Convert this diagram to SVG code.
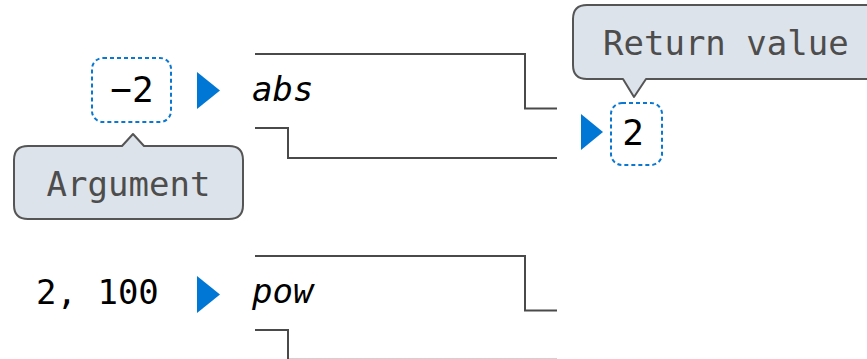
<svg xmlns="http://www.w3.org/2000/svg" width="867" height="359" viewBox="0 0 867 359">
<style>
  text { font-family: "DejaVu Sans Mono", "Liberation Mono", monospace; font-size: 34px; }
  .val { fill: #000; }
  .fn { fill: #000; font-style: italic; }
  .callout { fill: #dde3ea; stroke: #555; stroke-width: 2; stroke-linejoin: round; }
  .ctext { fill: #4d4d4d; }
  .dash { fill: none; stroke: #0a78d2; stroke-width: 2; stroke-dasharray: 4 3; }
  .wire { fill: none; stroke: #4a4a4a; stroke-width: 2; }
  .tri { fill: #0077d4; }
</style>
<rect width="867" height="359" fill="#ffffff"/>

<g id="abs-machine">
  <text class="fn" x="252" y="101">abs</text>
</g>
<g id="pow-machine">
  <text class="fn" x="252" y="303">pow</text>
</g>
<g id="arg-neg2">
  <rect class="dash" x="92" y="58" width="79" height="64" rx="11"/>
  <text class="val" x="132" y="102" text-anchor="middle" style="font-size:36px">−2</text>
</g>
<g id="ret-2">
  <rect class="dash" x="611" y="103" width="51" height="62" rx="11"/>
  <text class="val" x="633" y="145" text-anchor="middle" style="font-size:36px">2</text>
</g>
<g id="pow-args">
  <text class="val" x="36" y="304">2, 100</text>
</g>
<g id="argument-callout">
  <path class="callout" d="M 28 146 H 122 L 133 134 L 144 146 H 229 Q 243 146 243 160 V 205 Q 243 219 229 219 H 28 Q 14 219 14 205 V 160 Q 14 146 28 146 Z"/>
  <text class="ctext" x="128.5" y="196" text-anchor="middle">Argument</text>
</g>
<g id="return-callout">
  <path class="callout" d="M 587 5 H 880 V 79 H 646 L 634 97 L 623 79 H 587 Q 573 79 573 65 V 19 Q 573 5 587 5 Z"/>
  <text class="ctext" x="603" y="55">Return value</text>
</g>

<g id="connectors">
  <polyline class="wire" points="255,54 525,54 525,108.5 557,108.5"/>
  <polyline class="wire" points="255,128 288,128 288,158 557,158"/>
  <polyline class="wire" points="255,256 525,256 525,310.5 557,310.5"/>
  <polyline class="wire" points="255,330 288,330 288,359.8 557,359.8"/>
  <polygon class="tri" points="197,72 220,90.5 197,109"/>
  <polygon class="tri" points="197,276 220,294.5 197,313"/>
  <polygon class="tri" points="581,114 603,132 581,150"/>
</g>
</svg>
